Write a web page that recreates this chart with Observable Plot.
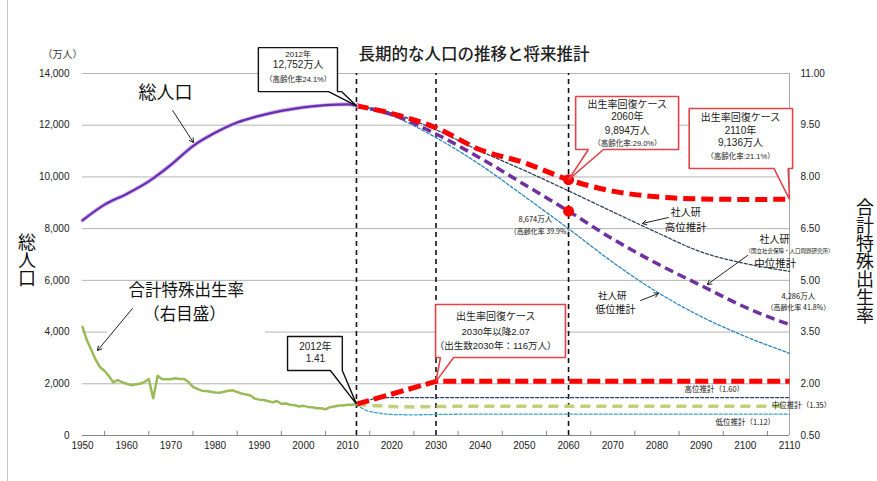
<!DOCTYPE html>
<html><head><meta charset="utf-8">
<script src="https://cdn.jsdelivr.net/npm/d3@7"></script>
<script src="https://cdn.jsdelivr.net/npm/@observablehq/plot@0.6"></script>
<style>
body{margin:0;background:#fff;}
#wrap{position:relative;width:877px;height:481px;overflow:hidden;background:#fff;}
#wrap svg{position:absolute;left:0;top:0;}
#wrap .edge{position:absolute;left:7px;top:0;width:1px;height:481px;background:#c8c8c8;}
text.vtitle{writing-mode:vertical-rl;text-orientation:upright;}
</style></head><body><div id="wrap"></div>
<script>
// ---------- data ----------
const histYears = [1950,1955,1960,1965,1970,1975,1980,1985,1990,1995,2000,2005,2010,2012];
const histPop   = [8320,8928,9342,9828,10467,11194,11706,12105,12361,12557,12693,12777,12806,12752];

const projYears   = [2012,2020,2030,2040,2050,2060,2070,2080,2090,2100,2110];
const popMedium   = [12752,12410,11662,10728,9708,8674,7600,6650,5800,4959,4286];
const popHigh     = [12752,12480,11820,11000,10250,9460,8650,7850,7100,6650,6350];
const popLow      = [12752,12370,11520,10470,9250,7997,6700,5550,4600,3830,3180];
const popRecovery = [12752,12450,11900,11050,10550,9894,9450,9230,9150,9130,9136];

const tfrYears = d3.range(1950, 2013);
const tfrHist = [3.65,3.26,2.98,2.69,2.48,2.37,2.22,2.04,2.11,2.04,
                 2.00,1.96,1.98,2.00,2.05,2.14,1.58,2.23,2.13,2.13,
                 2.13,2.16,2.14,2.14,2.05,1.91,1.85,1.80,1.79,1.77,
                 1.75,1.74,1.77,1.80,1.81,1.76,1.72,1.69,1.66,1.57,
                 1.54,1.53,1.50,1.46,1.50,1.42,1.43,1.39,1.38,1.34,
                 1.36,1.33,1.32,1.29,1.29,1.26,1.32,1.34,1.37,1.37,
                 1.39,1.39,1.41];
const tfrProjYears = [2012,2014,2017,2020,2025,2030,2040,2060,2080,2110];
const tfrMedium = [1.41,1.38,1.36,1.34,1.33,1.34,1.35,1.35,1.35,1.35];
const tfrHigh   = [1.41,1.50,1.58,1.60,1.60,1.60,1.60,1.60,1.60,1.60];
const tfrLow    = [1.41,1.24,1.15,1.11,1.10,1.11,1.12,1.12,1.12,1.12];
const tfrRecYears = [2012,2030,2110];
const tfrRecovery = [1.41,2.07,2.07];

const popTicks = [0,2000,4000,6000,8000,10000,12000,14000];
const tfrTickLabels = ["0.50","2.00","3.50","5.00","6.50","8.00","9.50","11.00"];
const yearTicks = [1950,1960,1970,1980,1990,2000,2010,2020,2030,2040,2050,2060,2070,2080,2090,2100,2110];
const minorTicks = [1955,1965,1975,1985,1995,2005,2015,2025,2035,2045,2055,2065,2075,2085,2095,2105];
const markerYears = [2012,2030,2060];

// right axis (TFR) mapped onto left (population) scale: 0.50 -> 0, 11.00 -> 14000
const tfrToAxis = r => (r - 0.5) / 1.5 * 2000;

// ---------- annotations (data coordinates) ----------
const callouts = [
  {id:"c1", color:"black", x0:1989.8, x1:2007.7, yTop:15000, yBot:13300, tail:[2005.7,2008.6], tip:[2012, histPop[histPop.length-1]],
   lines:[["2012年",14735,8],["12,752万人",14348,10],["（高齢化率24.1%）",13768,7.5]], tx:1998.8},
  {id:"c2", color:"red", x0:2061.6, x1:2084.9, yTop:13110, yBot:11061, tail:[2064.5,2067.9], tip:[2060, popRecovery[5]],
   lines:[["出生率回復ケース",12801,10],["2060年",12310,10],["9,894万人",11795,10],["（高齢化率:29.0%）",11304,7.5]], tx:2073.3},
  {id:"c3", color:"red", x0:2087.3, x1:2110.7, yTop:12646, yBot:10326, tail:[2106.5,2109.7], tip:[2110, popRecovery[10]],
   lines:[["出生率回復ケース",12287,10],["2110年",11795,10],["9,136万人",11304,10],["（高齢化率:21.1%）",10790,7.5]], tx:2098.9},
  {id:"c4", color:"red", x0:2029.9, x1:2059.3, yTop:5066, yBot:3017, tail:[2031.0,2034.0], tip:[2030, tfrToAxis(2.07)],
   lines:[["出生率回復ケース",4575,10],["2030年以降2.07",3995,9.5],["（出生数2030年：116万人）",3481,9.5]], tx:2043.5},
  {id:"c5", color:"black", x0:1996.4, x1:2008.8, yTop:3829, yBot:2514, tail:[2006.1,2008.8], tip:[2012, tfrToAxis(1.41)],
   lines:[["2012年",3415,10],["1.41",2966,10]], tx:2002.7}
];
const labels = [
  ["総人口",1968.8,13227,18],
  ["合計特殊出生率",1973.5,5588,16.5],
  ["（右目盛）",1973.1,4680,16.5],
  ["社人研",2086.5,8624,10],["高位推計",2086.5,8044,10.5],
  ["社人研",2106.6,7561,10],["（国立社会保障・人口問題研究所）",2110,7116,5.5],["中位推計",2106.8,6652,10.5],
  ["4,286万人",2112,5376,7.5],["（高齢化率 41.8%）",2112,4950,7],
  ["社人研",2069.9,5414,9.5],["低位推計",2070.6,4873,10],
  ["8,674万人",2052.5,8354,7.5],["（高齢化率 39.9%）",2053.9,7889,7],
  ["高位推計（1.60）",2093.0,1779,7.5],
  ["中位推計（1.35）",2112.7,1160,7.5],
  ["低位推計（1.12）",2100.0,503,7.5]
];
const arrows = [
  [1970.4,12569,1975.1,11331],
  [1961.3,4912,1953.4,3287],
  [2082.6,8431,2076.7,8199],
  [2100.5,6961,2091.4,5840],
  [2076.3,5221,2080.35,5492]
];
const tfrLabelBg = [{x1:1955.7, x2:1991.4, y1:3674, y2:5878}];

// ---------- build tables ----------
const zip = (xs, ys, f = v => v) => xs.map((x, i) => ({x, y: f(ys[i])}));
const hist = zip(histYears, histPop);
const med = zip(projYears, popMedium);
const high = zip(projYears, popHigh);
const low = zip(projYears, popLow);
const rec = zip(projYears, popRecovery);
const tHist = zip(tfrYears, tfrHist, tfrToAxis);
const tMed = zip(tfrProjYears, tfrMedium, tfrToAxis);
const tHigh = zip(tfrProjYears, tfrHigh, tfrToAxis);
const tLow = zip(tfrProjYears, tfrLow, tfrToAxis);
const tRec = zip(tfrRecYears, tfrRecovery, tfrToAxis);
const dots = [{x:2060, y:popRecovery[projYears.indexOf(2060)]}, {x:2060, y:popMedium[projYears.indexOf(2060)]}];

const poly = c => [[c.x0,c.yTop],[c.x1,c.yTop],[c.x1,c.yBot],[c.tail[1],c.yBot],c.tip,[c.tail[0],c.yBot],[c.x0,c.yBot]]
  .map(([x,y]) => ({id:c.id, x, y}));
const blackPolys = callouts.filter(c => c.color === "black").flatMap(poly);
const redPolys = callouts.filter(c => c.color === "red").flatMap(poly);
const calloutText = callouts.flatMap(c => c.lines.map(([t,y,s]) => ({text:t, x:c.tx, y, size:s})));
const labelRows = labels.map(([text,x,y,size]) => ({text,x,y,size}));
const arrowRows = arrows.map(([x1,y1,x2,y2]) => ({x1,y1,x2,y2}));

const FONT = "'Liberation Sans','Noto Sans CJK JP',sans-serif";
const JP = "'Noto Sans CJK JP',sans-serif";

// vertical axis title (upright characters, top-to-bottom), placed relative to the frame
const verticalTitle = (txt, side, dx, dy) => (index, scales, values, dims) => {
  const x = side === "left" ? dims.marginLeft + dx : dims.width - dims.marginRight + dx;
  const y = (dims.marginTop + dims.height - dims.marginBottom) / 2 + dy;
  const t = document.createElementNS("http://www.w3.org/2000/svg", "text");
  t.setAttribute("class", "vtitle");
  t.setAttribute("x", x);
  t.setAttribute("y", y);
  t.setAttribute("writing-mode", "vertical-rl");
  t.setAttribute("text-anchor", "middle");
  t.setAttribute("font-size", 18);
  t.setAttribute("font-family", JP);
  t.setAttribute("fill", "#111");
  t.textContent = txt;
  return t;
};

const chart = Plot.plot({
  width: 877, height: 481,
  marginLeft: 82, marginRight: 88, marginTop: 73, marginBottom: 46,
  x: {domain: [1950, 2110]},
  y: {domain: [0, 14000]},
  style: {fontFamily: FONT, background: "white", color: "#222", overflow: "visible"},
  marks: [
    Plot.ruleY(popTicks, {stroke: "#b4b4b4", strokeWidth: 1}),
    Plot.ruleX([2110], {stroke: "#a8a8a8"}),
    Plot.ruleY([0], {stroke: "#868686"}),
    Plot.ruleX(minorTicks, {y1: 0, y2: 160, stroke: "#868686"}),
    Plot.axisY({anchor: "left", ticks: popTicks, tickFormat: d3.format(","), tickSize: 0, tickPadding: 13, fontSize: 10}),
    Plot.axisY({anchor: "right", ticks: popTicks, tickFormat: d => tfrTickLabels[popTicks.indexOf(d)], tickSize: 0, tickPadding: 11, fontSize: 10}),
    Plot.axisX({ticks: yearTicks, tickFormat: d => String(d), tickSize: 0, tickPadding: 6, fontSize: 10}),
    Plot.ruleX(markerYears, {y1: 0, y2: 14000, stroke: "#111", strokeWidth: 1.6, strokeDasharray: "5,4"}),
    Plot.rect(tfrLabelBg, {x1: "x1", x2: "x2", y1: "y1", y2: "y2", fill: "white"}),
    // population
    Plot.line(low, {x: "x", y: "y", stroke: "#2f86c4", strokeWidth: 1.3, strokeDasharray: "3,2", curve: "monotone-x"}),
    Plot.line(high, {x: "x", y: "y", stroke: "#34465f", strokeWidth: 1.3, strokeDasharray: "3,2", curve: "monotone-x"}),
    Plot.line(med, {x: "x", y: "y", stroke: "#7030a0", strokeWidth: 3.5, strokeDasharray: "9,5", strokeLinecap: "butt", curve: "monotone-x"}),
    Plot.line(rec, {x: "x", y: "y", stroke: "#ff0000", strokeWidth: 5, strokeDasharray: "12,6", strokeLinecap: "butt", curve: "monotone-x"}),
    Plot.line(hist, {x: "x", y: "y", stroke: "#cdb2ec", strokeWidth: 4, curve: "monotone-x"}),
    Plot.line(hist, {x: "x", y: "y", stroke: "#6a2fb0", strokeWidth: 2.2, curve: "monotone-x"}),
    // TFR
    Plot.line(tLow, {x: "x", y: "y", stroke: "#3aa3c8", strokeWidth: 1.3, strokeDasharray: "3,2", curve: "monotone-x"}),
    Plot.line(tHigh, {x: "x", y: "y", stroke: "#2c3f78", strokeWidth: 1.3, strokeDasharray: "3,2", curve: "monotone-x"}),
    Plot.line(tMed, {x: "x", y: "y", stroke: "#bfcf7a", strokeWidth: 3.5, strokeDasharray: "10,6", strokeLinecap: "butt", curve: "monotone-x"}),
    Plot.line(tRec, {x: "x", y: "y", stroke: "#ff0000", strokeWidth: 5, strokeDasharray: "13,5", strokeLinecap: "butt"}),
    Plot.line(tHist, {x: "x", y: "y", stroke: "#9bbb59", strokeWidth: 2.5}),
    Plot.dot(dots, {x: "x", y: "y", r: 5.5, fill: "#ff0000"}),
    // callouts
    Plot.line(blackPolys, {x: "x", y: "y", z: "id", curve: "linear-closed", fill: "white", stroke: "#111", strokeWidth: 1.4, strokeLinejoin: "miter"}),
    Plot.line(redPolys, {x: "x", y: "y", z: "id", curve: "linear-closed", fill: "white", stroke: "#e2434b", strokeWidth: 1.6, strokeLinejoin: "miter"}),
    Plot.text(calloutText, {x: "x", y: "y", text: "text", fontSize: "size", fill: "#222"}),
    Plot.text(labelRows, {x: "x", y: "y", text: "text", fontSize: "size", fill: "#111", fontFamily: JP}),
    Plot.arrow(arrowRows, {x1: "x1", y1: "y1", x2: "x2", y2: "y2", stroke: "#222", strokeWidth: 1, headLength: 7}),
    // chrome text
    Plot.text(["長期的な人口の推移と将来推計"], {frameAnchor: "top", textAnchor: "middle", dx: 38, dy: -25, fontSize: 16.5, fontWeight: 500, fontFamily: JP, fill: "#222"}),
    Plot.text(["（万人）"], {frameAnchor: "top-left", textAnchor: "middle", dx: -20, dy: -23, fontSize: 10, fontFamily: JP, fill: "#333"}),
    verticalTitle("総人口", "left", -55, 6),
    verticalTitle("合計特殊出生率", "right", 76, 7)
  ]
});
const wrap = document.getElementById("wrap");
wrap.appendChild(chart);
const edge = document.createElement("div");
edge.className = "edge";
wrap.appendChild(edge);
</script>
</body></html>
